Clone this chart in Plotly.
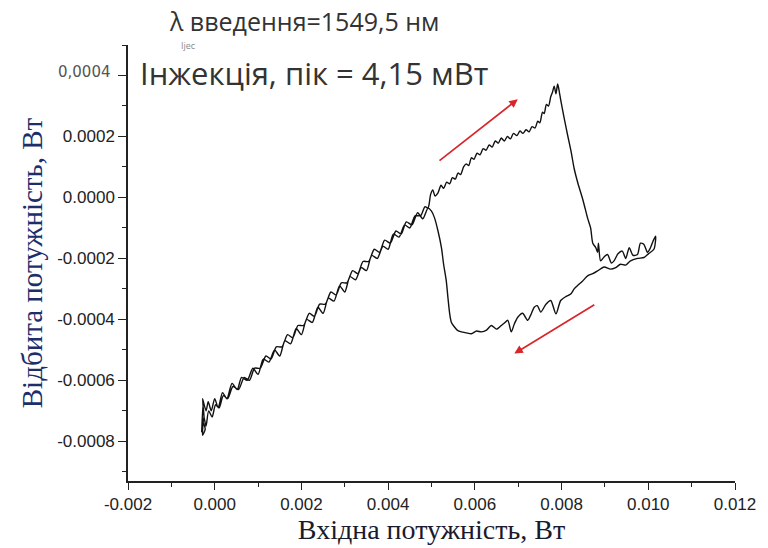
import plotly.graph_objects as go

# ---------------- data ----------------
# forward trace (rising input) along the linear part
fwd_x = [-0.00030, -0.00027, -0.00024, -0.00028, -0.00020, -0.00015, -0.00008, 0.00000, 0.00008, 0.00018,
         0.00028, 0.00040, 0.00052, 0.00062, 0.00075, 0.00088, 0.00100, 0.00112, 0.00125, 0.00138,
         0.00150, 0.00162, 0.00175, 0.00188, 0.00200, 0.00212, 0.00225, 0.00238, 0.00250, 0.00262,
         0.00275, 0.00288, 0.00300, 0.00312, 0.00325, 0.00338, 0.00350, 0.00362, 0.00375, 0.00388,
         0.00400, 0.00412, 0.00425, 0.00438, 0.00450, 0.00462, 0.00475, 0.00485]
fwd_y = [-0.00077, -0.00068, -0.00073, -0.00066, -0.00070, -0.00067, -0.00070, -0.00066, -0.00069, -0.00064,
         -0.00066, -0.00061, -0.00063, -0.00059, -0.00060, -0.00056, -0.00058, -0.00053, -0.00054, -0.00050,
         -0.00052, -0.00047, -0.00048, -0.00043, -0.00045, -0.00040, -0.00041, -0.00036, -0.00038, -0.00033,
         -0.00034, -0.00029, -0.00031, -0.00026, -0.00027, -0.00023, -0.00024, -0.00019, -0.00020, -0.00016,
         -0.00017, -0.00012, -0.00013, -0.00009, -0.00010, -0.00006, -0.00006, -0.00003]

# upper branch, switch-down and right-hand noisy end
up_x = [0.00492, 0.00498, 0.00503, 0.00508, 0.00515, 0.00522, 0.00528, 0.00535, 0.00542, 0.00548,
        0.00555, 0.00561, 0.00567, 0.00574, 0.00580, 0.00586, 0.00592, 0.00598, 0.00605, 0.00612,
        0.00619, 0.00626, 0.00633, 0.00640, 0.00647, 0.00654, 0.00661, 0.00668, 0.00675, 0.00682,
        0.00689, 0.00697, 0.00704, 0.00711, 0.00718, 0.00725, 0.00732, 0.00739, 0.00745, 0.00750,
        0.00756, 0.00760, 0.00765, 0.00770, 0.00775, 0.00779, 0.00783, 0.00787, 0.00791, 0.00795,
        0.00798, 0.00806, 0.00814, 0.00822, 0.00829, 0.00838, 0.00848, 0.00855, 0.00860, 0.00867,
        0.00872, 0.00879, 0.00883, 0.00885, 0.00890, 0.00898, 0.00906, 0.00915, 0.00921, 0.00930,
        0.00940, 0.00948, 0.00956, 0.00965, 0.00975, 0.00982, 0.00990, 0.00998, 0.01005, 0.01012,
        0.01017]
up_y = [-0.000035, 0.000010, 0.000025, 0.000005, 0.000015, 0.000040, 0.000030, 0.000050, 0.000045, 0.000065,
        0.000060, 0.000080, 0.000075, 0.000100, 0.000110, 0.000105, 0.000130, 0.000125, 0.000145, 0.000140,
        0.000160, 0.000155, 0.000172, 0.000165, 0.000185, 0.000178, 0.000195, 0.000185, 0.000200, 0.000192,
        0.000210, 0.000203, 0.000218, 0.000210, 0.000222, 0.000215, 0.000232, 0.000228, 0.000250, 0.000245,
        0.000280, 0.000275, 0.000305, 0.000300, 0.000330, 0.000345, 0.000365, 0.000340, 0.000372, 0.000345,
        0.000320, 0.000260, 0.000204, 0.000150, 0.000095, 0.000045, -0.000002, -0.000040, -0.000068, -0.000100,
        -0.000150, -0.000165, -0.000180, -0.000150, -0.000208, -0.000195, -0.000187, -0.000215, -0.000208, -0.000185,
        -0.000176, -0.000200, -0.000165, -0.000190, -0.000187, -0.000150, -0.000154, -0.000180, -0.000165, -0.000140,
        -0.000127]

# lower branch (falling input), switch-up back to the junction
low_x = [0.01013, 0.01000, 0.00990, 0.00975, 0.00959, 0.00948, 0.00936, 0.00925, 0.00913, 0.00898,
         0.00883, 0.00872, 0.00860, 0.00848, 0.00837, 0.00829, 0.00821, 0.00810, 0.00798, 0.00787,
         0.00775, 0.00764, 0.00752, 0.00744, 0.00737, 0.00729, 0.00722, 0.00710, 0.00699, 0.00691,
         0.00684, 0.00676, 0.00668, 0.00661, 0.00650, 0.00638, 0.00627, 0.00615, 0.00604, 0.00592,
         0.00580, 0.00569, 0.00560, 0.00553, 0.00546, 0.00542, 0.00538, 0.00534, 0.00528, 0.00523,
         0.00515, 0.00507, 0.00500, 0.00492]
low_y = [-0.000170, -0.000185, -0.000197, -0.000200, -0.000208, -0.000222, -0.000219, -0.000230, -0.000235, -0.000228,
         -0.000241, -0.000250, -0.000257, -0.000275, -0.000289, -0.000300, -0.000317, -0.000325, -0.000338, -0.000382,
         -0.000338, -0.000350, -0.000376, -0.000355, -0.000360, -0.000385, -0.000403, -0.000380, -0.000393, -0.000415,
         -0.000441, -0.000403, -0.000412, -0.000420, -0.000432, -0.000420, -0.000435, -0.000441, -0.000438, -0.000447,
         -0.000444, -0.000441, -0.000436, -0.000425, -0.000410, -0.000382, -0.000330, -0.000273, -0.000220, -0.000165,
         -0.000110, -0.000067, -0.000045, -0.000035]

# return trace (falling input) along the linear part
ret_x = [0.00480, 0.00468, 0.00455, 0.00442, 0.00430, 0.00418, 0.00405, 0.00392, 0.00380, 0.00368,
         0.00355, 0.00342, 0.00330, 0.00318, 0.00305, 0.00292, 0.00280, 0.00268, 0.00255, 0.00242,
         0.00230, 0.00218, 0.00205, 0.00192, 0.00180, 0.00168, 0.00155, 0.00142, 0.00130, 0.00118,
         0.00105, 0.00092, 0.00080, 0.00068, 0.00055, 0.00042, 0.00030, 0.00020, 0.00010, 0.00002,
         -0.00006, -0.00014, -0.00020, -0.00025, -0.00028, -0.00022, -0.00026]
ret_y = [-0.00007, -0.00005, -0.00009, -0.00008, -0.00012, -0.00011, -0.00015, -0.00014, -0.00018, -0.00017,
         -0.00021, -0.00021, -0.00025, -0.00024, -0.00028, -0.00028, -0.00032, -0.00031, -0.00035, -0.00035,
         -0.00039, -0.00038, -0.00042, -0.00042, -0.00046, -0.00045, -0.00049, -0.00049, -0.00053, -0.00052,
         -0.00056, -0.00056, -0.00060, -0.00059, -0.00063, -0.00062, -0.00066, -0.00065, -0.00069, -0.00068,
         -0.00072, -0.00070, -0.00075, -0.00072, -0.00078, -0.00076, -0.00074]

# direction arrows (tail -> head)
arrow_up = [(0.00515, 0.000117), (0.00699, 0.000322)]
arrow_down = [(0.00879, -0.000349), (0.00691, -0.000512)]

x_tickvals = [-0.002, 0.000, 0.002, 0.004, 0.006, 0.008, 0.010, 0.012]
x_ticktext = ["-0.002", "0.000", "0.002", "0.004", "0.006", "0.008", "0.010", "0.012"]
y_tickvals = [-0.0008, -0.0006, -0.0004, -0.0002, 0.0000, 0.0002, 0.0004]
y_ticktext = ["-0.0008", "-0.0006", "-0.0004", "-0.0002", "0.0000", "0.0002", ""]

title_top = "λ введення=1549,5 нм"
title_main = "Інжекція, пік = 4,15 мВт"
x_title = "Вхідна потужність, Вт"
y_title = "Відбита потужність, Вт"

# ---------------- figure ----------------
xs = fwd_x + up_x + low_x + ret_x
ys = fwd_y + up_y + low_y + ret_y

fig = go.Figure()
fig.add_trace(go.Scatter(x=xs, y=ys, mode="lines",
                         line=dict(color="#111111", width=1.4, shape="spline", smoothing=0.7),
                         showlegend=False, hoverinfo="skip"))

red = "#d8262a"
for (tx, ty), (hx, hy) in [arrow_up, arrow_down]:
    fig.add_annotation(x=hx, y=hy, ax=tx, ay=ty, xref="x", yref="y", axref="x", ayref="y",
                       showarrow=True, arrowhead=2, arrowsize=1.0, arrowwidth=1.7,
                       arrowcolor=red, text="")

tick_font = dict(family="Liberation Sans, Arial, sans-serif", size=17, color="#222222")
serif = "Liberation Serif, Times New Roman, serif"

fig.update_layout(
    width=768, height=548,
    margin=dict(l=128, r=30, t=45, b=63),
    paper_bgcolor="white", plot_bgcolor="white",
    xaxis=dict(range=[-0.002, 0.012], tickmode="array", tickvals=x_tickvals, ticktext=x_ticktext,
               showgrid=False, zeroline=False, showline=True, linecolor="#222222", linewidth=1.5,
               ticks="outside", ticklen=7, tickwidth=1.3, tickcolor="#222222", tickfont=tick_font,
               minor=dict(tickmode="linear", tick0=-0.001, dtick=0.002, ticks="outside",
                          ticklen=4, tickwidth=1.2, tickcolor="#222222"),
               title=dict(text=x_title, standoff=2,
                          font=dict(family=serif, size=28, color="#1a1a2e"))),
    yaxis=dict(range=[-0.00093, 0.0005], tickmode="array", tickvals=y_tickvals, ticktext=y_ticktext,
               showgrid=False, zeroline=False, showline=True, linecolor="#222222", linewidth=1.5,
               ticks="outside", ticklen=8, tickwidth=1.3, tickcolor="#222222", tickfont=tick_font,
               minor=dict(tickmode="linear", tick0=-0.0009, dtick=0.0002, ticks="outside",
                          ticklen=4, tickwidth=1.2, tickcolor="#222222"),
               title=dict(text=y_title, standoff=6,
                          font=dict(family=serif, size=29, color="#1c2f6b"))),
)

fig.add_annotation(text=title_top, xref="paper", yref="paper", x=0.29, y=1.056,
                   xanchor="center", yanchor="middle", showarrow=False,
                   font=dict(family="Open Sans, sans-serif", size=25, color="#333333"))
fig.add_annotation(text="Ijec", xref="paper", yref="paper", x=0.1, y=1.0,
                   xanchor="center", yanchor="middle", showarrow=False,
                   font=dict(family="Open Sans, sans-serif", size=9, color="#8a8a8a"))
fig.add_annotation(text=title_main, xref="paper", yref="paper", x=0.016, y=0.936,
                   xanchor="left", yanchor="middle", showarrow=False,
                   font=dict(family="Open Sans, sans-serif", size=31, color="#333333"))
fig.add_annotation(text="0,0004", xref="paper", yref="paper", x=-0.025, y=0.9386,
                   xanchor="right", yanchor="middle", showarrow=False,
                   font=dict(family="DejaVu Sans, sans-serif", size=15, color="#555555"))

fig.write_html("out.html")
